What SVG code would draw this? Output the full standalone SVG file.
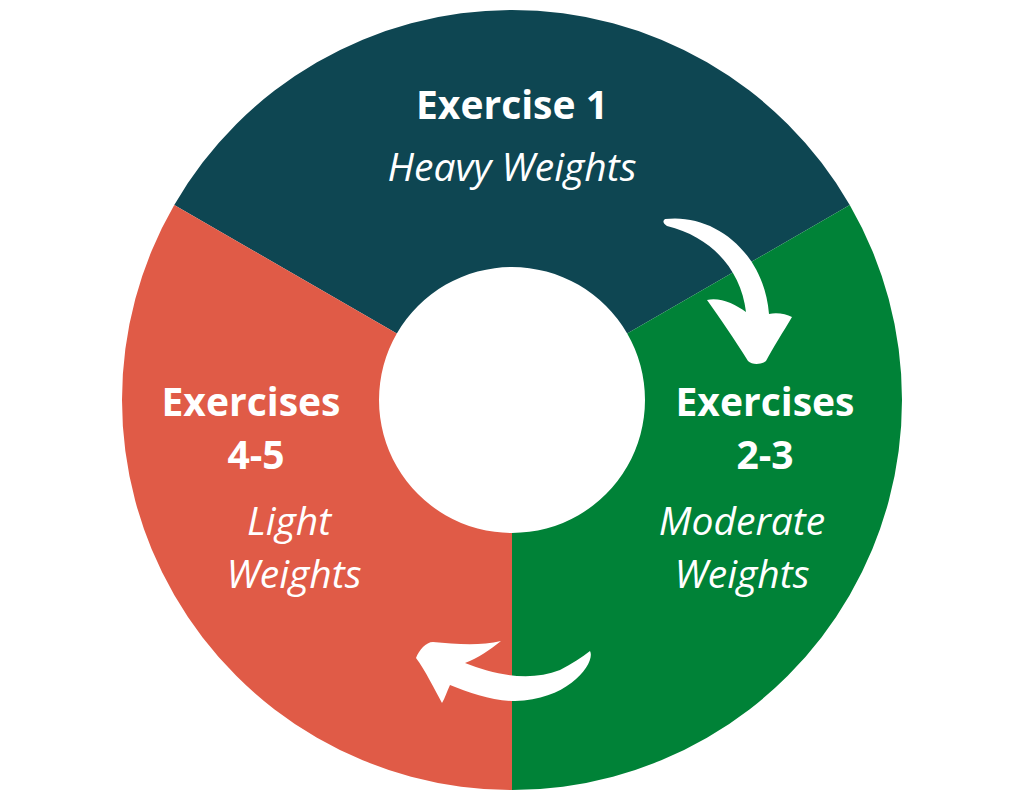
<svg xmlns="http://www.w3.org/2000/svg" width="1024" height="800" viewBox="0 0 1024 800">
<style>
.b{font-family:"Open Sans","Liberation Sans",sans-serif;font-weight:bold;font-size:39px;fill:#fff;text-anchor:middle}
.i{font-family:"Open Sans","Liberation Sans",sans-serif;font-style:italic;font-size:39px;fill:#fff;text-anchor:middle}
.arrow{fill:#fff}
</style>
<rect width="1024" height="800" fill="#fff"/>
<g id="exercise1">
<path d="M 174.25 205 A 390 390 0 0 1 849.75 205 L 627.18 333.5 A 133 133 0 0 0 396.82 333.5 Z" fill="#0e4652"/>
<text class="b" x="512" y="119">Exercise 1</text>
<text class="i" x="512" y="181">Heavy Weights</text>
</g>
<g id="exercises23">
<path d="M 849.75 205 A 390 390 0 0 1 512 790 L 512 533 A 133 133 0 0 0 627.18 333.5 Z" fill="#008237"/>
<text class="b" x="765" y="416">Exercises</text>
<text class="b" x="765" y="469">2-3</text>
<text class="i" x="742" y="535">Moderate</text>
<text class="i" x="742" y="588">Weights</text>
</g>
<g id="exercises45">
<path d="M 512 790 A 390 390 0 0 1 174.25 205 L 396.82 333.5 A 133 133 0 0 0 512 533 Z" fill="#e05b47"/>
<text class="b" x="251" y="416">Exercises</text>
<text class="b" x="256" y="469">4-5</text>
<text class="i" x="289" y="535">Light</text>
<text class="i" x="294" y="588">Weights</text>
</g>
<g id="connectors">
<path class="arrow" d="M 665 219 C 714 213, 764 252, 769 314 C 777 312, 786 314, 792 317 C 783 332, 773 348, 766 361 C 761 365, 752 365, 748 361 C 735 340, 720 318, 707 300 C 720 297, 735 304, 746 312 C 741 270, 712 237, 667 226 Q 661 222, 665 219 Z"/>
<path class="arrow" d="M 590 651 C 596 662, 570 700, 515 701 C 492 701, 470 693, 450 685 C 447 691, 445 698, 442 703 C 435 690, 425 670, 416 658 C 419 650, 426 642, 433 642 C 455 644, 480 646, 501 641 C 490 650, 478 658, 465 663 C 495 675, 530 682, 560 670 C 572 664, 582 657, 590 651 Z"/>
</g>
</svg>
